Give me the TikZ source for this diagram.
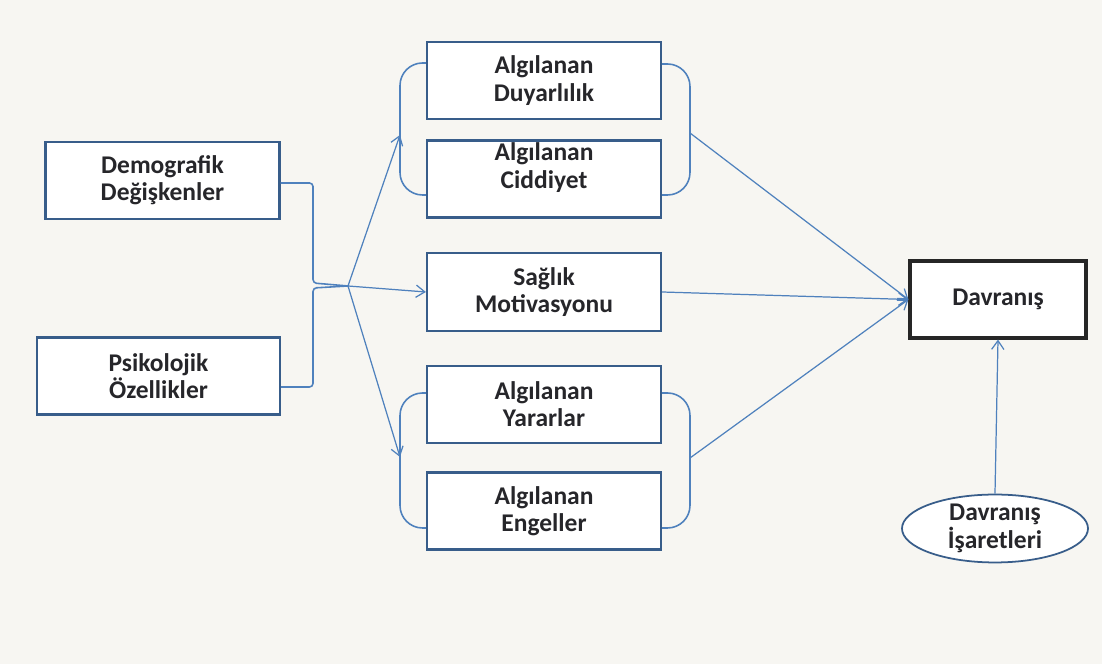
\documentclass[tikz,border=0pt]{standalone}
\usepackage{fontspec}
\setmainfont{Carlito}
\usepackage{tikz}
\usetikzlibrary{shapes, arrows, positioning, arrows.meta, calc}

\definecolor{zemin}{RGB}{247,246,242}
\definecolor{cizgi}{RGB}{79,129,189}
\definecolor{kenar}{RGB}{56,93,138}
\definecolor{yazi}{RGB}{38,38,42}

\begin{document}
\begin{tikzpicture}[
    kutu/.style={draw=kenar, line width=1.3pt, fill=white, minimum width=4.68cm,
      minimum height=1.54cm, align=center, text=yazi,
      font=\bfseries\fontsize{14.5}{15.5}\selectfont},
    ok/.style={draw=cizgi, line width=0.7pt, -{Straight Barb[length=5pt,width=7pt]}},
    bag/.style={draw=cizgi, line width=0.9pt, rounded corners=0.45cm}
  ]
  % Zemin
  \fill[zemin] (0,0) rectangle (22.04,13.28);
  \useasboundingbox (0,0) rectangle (22.04,13.28);

  % Sol kutular
  \node[kutu] (dem) at (3.25,9.67) {Demografik\\Değişkenler};
  \node[kutu, minimum width=4.86cm] (psi) at (3.17,5.76) {Psikolojik\\Özellikler};

  % Orta kutular
  \node[kutu] (duy) at (10.88,11.67) {Algılanan\\Duyarlılık};
  \node[kutu] (cid) at (10.88,9.70)
    {\raisebox{0.2cm}[\height][\depth]{\begin{tabular}{@{}c@{}}Algılanan\\Ciddiyet\end{tabular}}};
  \node[kutu, minimum height=1.56cm] (sag) at (10.88,7.44) {Sağlık\\Motivasyonu};
  \node[kutu] (yar) at (10.88,5.19) {Algılanan\\Yararlar};
  \node[kutu] (eng) at (10.88,3.06) {Algılanan\\Engeller};

  % Sag taraf
  \node[kutu, draw=black!85, line width=1.8pt, minimum width=3.52cm] (dav) at (19.96,7.29) {Davranış};
  \node[ellipse, draw=kenar, line width=1pt, fill=white, minimum width=3.72cm,
    minimum height=1.26cm, inner sep=0pt, align=center, text=yazi,
    font=\bfseries\fontsize{14.5}{15.5}\selectfont] (ise) at (19.90,2.71) {Davranış\\İşaretleri};

  % Baglanti noktalari
  \coordinate (kav) at (6.96,7.56);
  \coordinate (solUst) at (8.0,10.58);
  \coordinate (sagUst) at (13.80,10.62);
  \coordinate (solAlt) at (8.0,4.14);
  \coordinate (sagAlt) at (13.80,4.12);

  % Parantezler
  \draw[bag] ($(duy.west)+(0,0.35)$) -| (solUst) |- ($(cid.west)+(0,-0.32)$);
  \draw[bag] ($(duy.east)+(0,0.33)$) -| (sagUst) |- ($(cid.east)+(0,-0.32)$);
  \draw[bag] ($(yar.west)+(0,0.23)$) -| (solAlt) |- ($(eng.west)+(0,-0.34)$);
  \draw[bag] ($(yar.east)+(0,0.23)$) -| (sagAlt) |- ($(eng.east)+(0,-0.34)$);

  % Sol birlesme
  \draw[draw=cizgi, line width=0.9pt, rounded corners=2pt]
    ($(dem.east)+(0,-0.05)$) -| (6.26,7.62) -- (kav);
  \draw[draw=cizgi, line width=0.9pt, rounded corners=2pt]
    ($(psi.east)+(0,-0.22)$) -| (6.26,7.52) -- (kav);

  % Oklar
  \draw[ok] (kav) -- (solUst);
  \draw[ok] (kav) -- (sag.west);
  \draw[ok] (kav) -- (solAlt);
  \draw[ok] (sagUst) -- (dav.west);
  \draw[ok] (sag.east) -- (dav.west);
  \draw[ok] (sagAlt) -- (dav.west);
  \draw[ok] (ise.north) -- (dav.south);
\end{tikzpicture}
\end{document}
